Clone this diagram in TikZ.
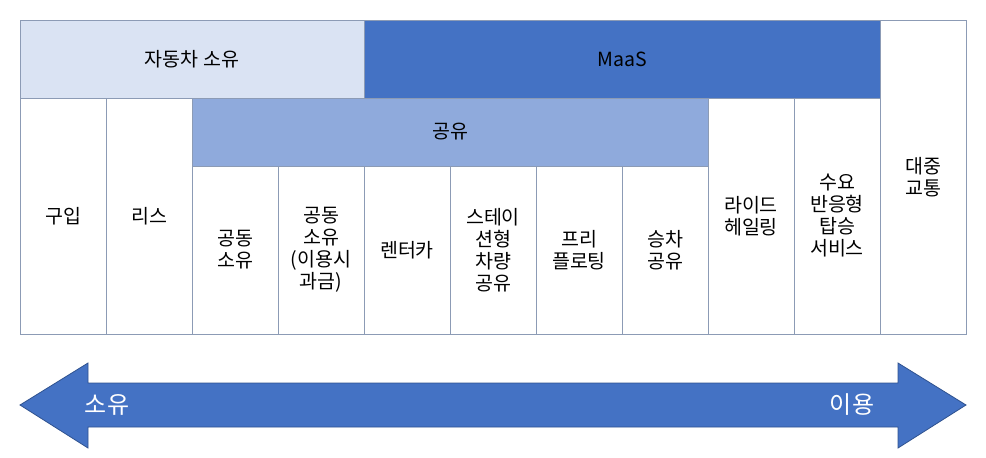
\documentclass[tikz,border=0pt]{standalone}
\usepackage{fontspec}
\setmainfont{Noto Sans CJK KR}
\definecolor{hdrlight}{HTML}{DAE3F3}
\definecolor{maas}{HTML}{4472C4}
\definecolor{share}{HTML}{8FAADC}
\definecolor{grid}{HTML}{8C9BB5}
\definecolor{arrowedge}{HTML}{2F528F}
\begin{document}
\begin{tikzpicture}[x=1pt,y=-1pt,
  cell/.style={draw=grid, line width=0.8pt, fill=white, inner sep=0pt, outer sep=0pt,
    align=center, font=\fontsize{19.5}{22}\selectfont, text=black},
  lbl/.style={font=\fontsize{24}{26}\selectfont, text=white, inner sep=0pt}]
\useasboundingbox (0,0) rectangle (986,458);
% header row
\node[cell, fill=hdrlight, minimum width=344pt, minimum height=78pt] (own) at (192,59) {자동차 소유};
\node[cell, fill=maas, minimum width=516pt, minimum height=78pt] (maas) at (622,59) {MaaS};
\node[cell, minimum width=86pt, minimum height=314pt] (pub) at (923,177) {대중\\교통};
% tall cells
\node[cell, minimum width=86pt, minimum height=236pt] (buy) at (63,216) {구입};
\node[cell, minimum width=86pt, minimum height=236pt] (lease) at (149,216) {리스};
\node[cell, minimum width=86pt, minimum height=236pt] (ride) at (751,216) {라이드\\헤일링};
\node[cell, minimum width=86pt, minimum height=236pt] (drt) at (837,216) {수요\\반응형\\탑승\\서비스};
% sharing header
\node[cell, fill=share, minimum width=516pt, minimum height=68pt] (shr) at (450,132) {공유};
% sharing sub-cells
\node[cell, minimum width=86pt, minimum height=168pt] (co) at (235,250) {공동\\소유};
\node[cell, minimum width=86pt, minimum height=168pt] (copay) at (321,250) {공동\\소유\\(이용시\\과금)};
\node[cell, minimum width=86pt, minimum height=168pt] (rent) at (407,250) {렌터카};
\node[cell, minimum width=86pt, minimum height=168pt] (stat) at (493,250) {스테이\\션형\\차량\\공유};
\node[cell, minimum width=86pt, minimum height=168pt] (free) at (579,250) {프리\\플로팅};
\node[cell, minimum width=86pt, minimum height=168pt] (car) at (665,250) {승차\\공유};
% double arrow
\draw[fill=maas, draw=arrowedge, line width=0.8pt, line join=miter]
  (20,405) -- (88,363) -- (88,383) -- (898,383) -- (898,363) -- (966,405)
  -- (898,448) -- (898,427) -- (88,427) -- (88,448) -- cycle;
\node[lbl] (own2) at (107,405) {소유};
\node[lbl] (use) at (852,405) {이용};
\end{tikzpicture}
\end{document}
